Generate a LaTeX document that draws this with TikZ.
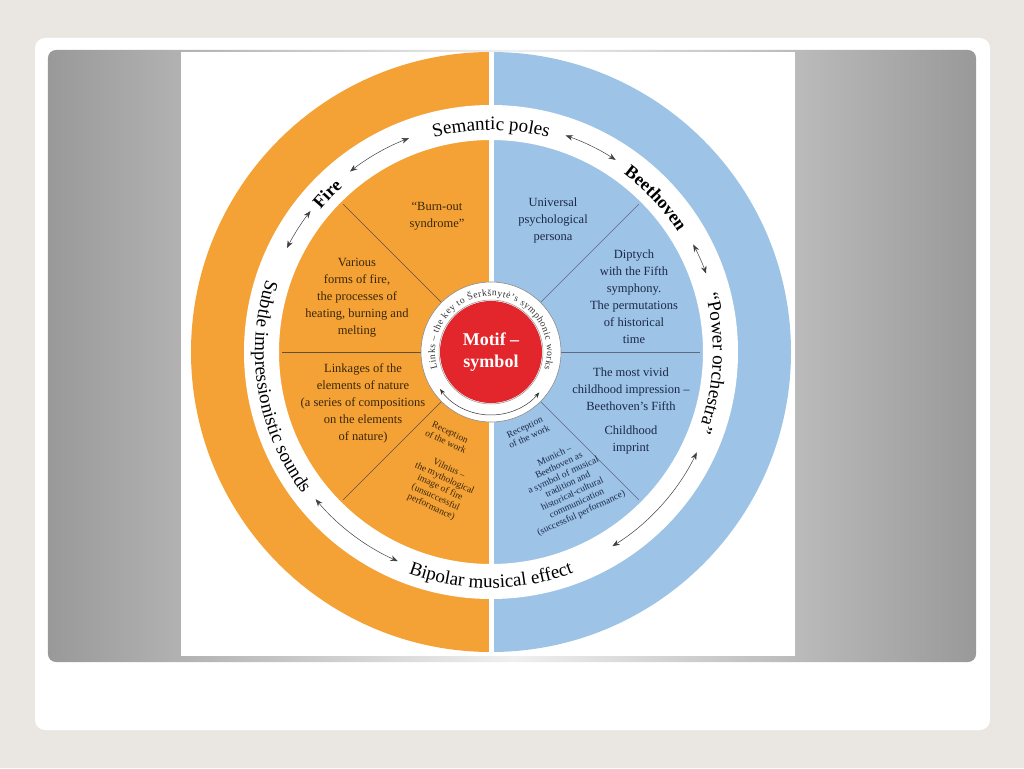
\documentclass[tikz,border=0pt]{standalone}
\usepackage{fontspec}
\setmainfont{Liberation Serif}
\usetikzlibrary{decorations.text,arrows.meta}
\definecolor{fireorange}{HTML}{F4A236}
\definecolor{skyblue}{HTML}{9DC3E6}
\definecolor{motifred}{HTML}{E3262B}
\definecolor{firetext}{HTML}{3A2608}
\definecolor{bluetext}{HTML}{1B2848}
\tikzset{
  figlabel/.style={align=center, font=\fontsize{12.5}{17}\selectfont},
  firelabel/.style={figlabel, text=firetext},
  bluelabel/.style={figlabel, text=bluetext},
  smalllabel/.style={align=center, font=\fontsize{9.5}{10.5}\selectfont},
  sectorline/.style={line width=0.5pt},
  ringarrow/.style={{Stealth[length=2.6mm]}-{Stealth[length=2.6mm]}, line width=0.5pt, black!75},
}
\newcommand{\cwtext}[4]{% radius, start, end, text (clockwise, tops outward)
  \path[decorate, decoration={text along path, text align=center, text={#4}}]
    (#2:#1) arc[start angle=#2, end angle=#3, radius=#1];}
\newcommand{\ccwtext}[4]{% radius, start, end, text (counterclockwise, tops inward)
  \path[decorate, decoration={text along path, text align=center, text={#4}}]
    (#2:#1) arc[start angle=#2, end angle=#3, radius=#1];}
\begin{document}
\begin{tikzpicture}[x=1pt,y=1pt]
  \useasboundingbox (-491,-416) rectangle (533,352);
  % page, card and panel
  \fill[black!4!orange!3!white!92!black] (-491,-416) rectangle (533,352);
  \fill[white, rounded corners=10pt] (-456,314) rectangle (499,-378);
  \shade[left color=black!40, right color=black!40, middle color=black!6, rounded corners=8pt]
    (-443,302) rectangle (485,-310);
  \fill[white] (-310,300) rectangle (304,-304);

  % outer halves
  \fill[fireorange] (90:300) arc[start angle=90, end angle=270, radius=300] -- cycle;
  \fill[skyblue] (-90:300) arc[start angle=-90, end angle=90, radius=300] -- cycle;
  \draw[white, line width=5pt] (0,300) -- (0,-300);
  % white ring
  \fill[white, even odd rule] (0,0) circle (247) (0,0) circle (212);
  \draw[white, line width=5pt] (0,209) -- (0,-209);

  % sectors
  \draw[sectorline, firetext!80] (135:70) -- (135:209);
  \draw[sectorline, firetext!80] (180:70) -- (180:209);
  \draw[sectorline, firetext!80] (225:70) -- (225:209);
  \draw[sectorline, bluetext!70] (45:70) -- (45:209);
  \draw[sectorline, bluetext!70] (0:70) -- (0:209);
  \draw[sectorline, bluetext!70] (-45:70) -- (-45:209);

  % center
  \fill[white] (0,0) circle (70);
  \draw[black!45, line width=0.6pt] (0,0) circle (70);
  \node[circle, fill=motifred, minimum size=102pt, inner sep=0pt, text=white, align=center,
    font=\fontsize{18}{22}\selectfont\bfseries] (motif) at (0,0) {Motif –\\symbol};
  \draw[black!45, line width=0.5pt] (0,0) circle (52);
  \path[decorate, decoration={text along path, text align={fit to path}, text color=black!80,
    text={|\fontsize{9.6}{10}\selectfont|Links – the key to Šerkšnytė’s symphonic works}}]
    (197:56) arc[start angle=197, end angle=-18, radius=56];
  \draw[{Stealth[length=2mm]}-{Stealth[length=2mm]}, line width=0.5pt, black!80]
    (216:63) arc[start angle=216, end angle=320, radius=63];

  % ring labels
  \cwtext{222}{125}{55}{|\fontsize{19}{19}\selectfont|Semantic poles}
  \cwtext{222}{150}{122}{|\fontsize{18}{18}\selectfont\bfseries|Fire}
  \cwtext{222}{70}{16}{|\fontsize{18}{18}\selectfont\bfseries|Beethoven}
  \cwtext{222}{30}{-36}{|\fontsize{19}{19}\selectfont|“Power orchestra”}
  \ccwtext{236}{148}{231}{|\fontsize{19}{19}\selectfont|Subtle impressionistic sounds}
  \ccwtext{236}{243}{297}{|\fontsize{19}{19}\selectfont|Bipolar musical effect}

  % ring arrows
  \draw[ringarrow] (111:229) arc[start angle=111, end angle=128, radius=229];
  \draw[ringarrow] (142:229) arc[start angle=142, end angle=153, radius=229];
  \draw[ringarrow] (220:229) arc[start angle=220, end angle=246, radius=229];
  \draw[ringarrow] (-58:229) arc[start angle=-58, end angle=-26, radius=229];
  \draw[ringarrow] (20:229) arc[start angle=20, end angle=28, radius=229];
  \draw[ringarrow] (57:229) arc[start angle=57, end angle=71, radius=229];

  % fire half
  \node[firelabel] (burnout) at (-54,136) {“Burn-out\\syndrome”};
  \node[firelabel] (forms) at (-134,54) {Various\\forms of fire,\\the processes of\\heating, burning and\\melting};
  \node[firelabel] (linkages) at (-128,-51) {Linkages of the\\elements of nature\\(a series of compositions\\on the elements\\of nature)};
  \node[smalllabel, text=firetext, rotate=-25] (recleft) at (-43,-85) {Reception\\of the work};
  \node[smalllabel, text=firetext, rotate=-25] (vilnius) at (-51,-136) {Vilnius –\\the mythological\\image of fire\\(unsuccessful\\performance)};

  % beethoven half
  \node[bluelabel] (persona) at (62,132) {Universal\\psychological\\persona};
  \node[bluelabel] (diptych) at (143,55) {Diptych\\with the Fifth\\symphony.\\The permutations\\of historical\\time};
  \node[bluelabel] (vivid) at (140,-37) {The most vivid\\childhood impression –\\Beethoven’s Fifth};
  \node[bluelabel] (imprint) at (140,-88) {Childhood\\imprint};
  \node[smalllabel, text=bluetext, rotate=25] (recright) at (36,-80) {Reception\\of the work};
  \node[smalllabel, text=bluetext, rotate=25] (munich) at (77,-133) {Munich –\\Beethoven as\\a symbol of musical\\tradition and\\historical-cultural\\communication\\(successful performance)};
\end{tikzpicture}
\end{document}
